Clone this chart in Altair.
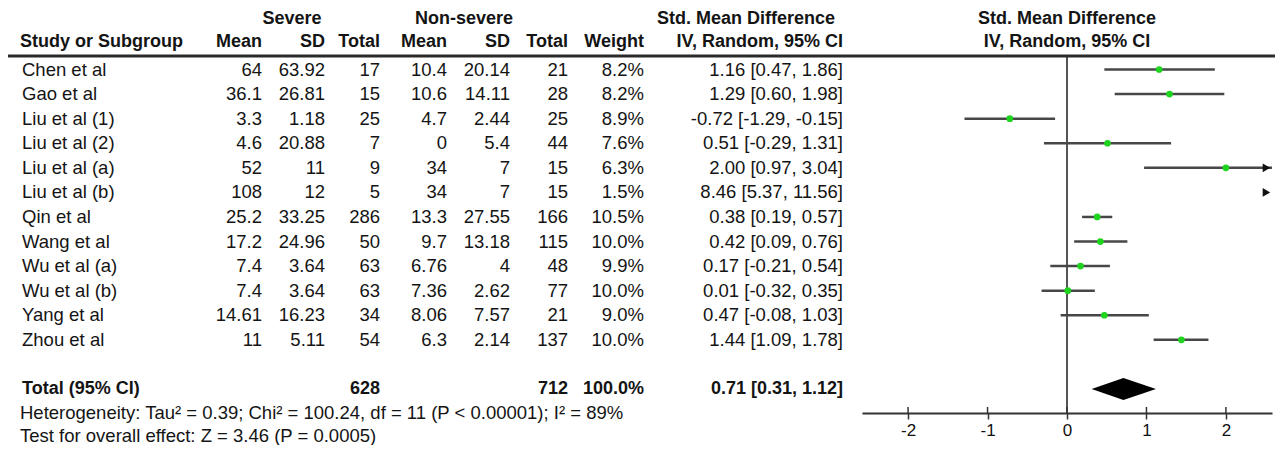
import altair as alt
import pandas as pd

# ---------------- data ----------------
studies = ["Chen et al", "Gao et al", "Liu et al (1)", "Liu et al (2)", "Liu et al (a)",
           "Liu et al (b)", "Qin et al", "Wang et al", "Wu et al (a)", "Wu et al (b)",
           "Yang et al", "Zhou et al"]
sev_mean = [64, 36.1, 3.3, 4.6, 52, 108, 25.2, 17.2, 7.4, 7.4, 14.61, 11]
sev_sd = [63.92, 26.81, 1.18, 20.88, 11, 12, 33.25, 24.96, 3.64, 3.64, 16.23, 5.11]
sev_n = [17, 15, 25, 7, 9, 5, 286, 50, 63, 63, 34, 54]
non_mean = [10.4, 10.6, 4.7, 0, 34, 34, 13.3, 9.7, 6.76, 7.36, 8.06, 6.3]
non_sd = [20.14, 14.11, 2.44, 5.4, 7, 7, 27.55, 13.18, 4, 2.62, 7.57, 2.14]
non_n = [21, 28, 25, 44, 15, 15, 166, 115, 48, 77, 21, 137]
weight = [8.2, 8.2, 8.9, 7.6, 6.3, 1.5, 10.5, 10.0, 9.9, 10.0, 9.0, 10.0]
smd = [1.16, 1.29, -0.72, 0.51, 2.00, 8.46, 0.38, 0.42, 0.17, 0.01, 0.47, 1.44]
ci_lo = [0.47, 0.60, -1.29, -0.29, 0.97, 5.37, 0.19, 0.09, -0.21, -0.32, -0.08, 1.09]
ci_hi = [1.86, 1.98, -0.15, 1.31, 3.04, 11.56, 0.57, 0.76, 0.54, 0.35, 1.03, 1.78]

total_label = "Total (95% CI)"
total_sev_n = 628
total_non_n = 712
total_weight = 100.0
total_smd = 0.71
total_lo = 0.31
total_hi = 1.12

heterogeneity = "Heterogeneity: Tau² = 0.39; Chi² = 100.24, df = 11 (P < 0.00001); I² = 89%"
overall = "Test for overall effect: Z = 3.46 (P = 0.0005)"
x_ticks = [-2, -1, 0, 1, 2]

# ---------------- layout / style ----------------
FONT = "Liberation Sans"
FS = 18.5
FSB = 18
TXT = "#141414"
XMIN, XMAX = -2.58, 2.58
W, H = 1267, 405
xscale = alt.Scale(domain=[XMIN, XMAX], range=[854, 1264], nice=False, zero=False)
TOTAL_ROW = len(studies) + 1
yscale = alt.Scale(domain=[0, TOTAL_ROW], range=[61.5, 381], nice=False, zero=False)

axis = alt.Axis(values=x_ticks, labelExpr="datum.value + ''", title=None, grid=False,
                domainColor="#333333", domainWidth=2, tickColor="#333333", tickWidth=1.5,
                tickSize=6, labelFont=FONT, labelFontSize=17, labelColor="#111111",
                labelPadding=3, orient="bottom", labelFlush=False, labelOverlap=False)


def XQ(field):
    return alt.X(field, scale=xscale, axis=axis)


def fmt(v):
    return f"{v:g}"


rows = list(range(len(studies)))
df = pd.DataFrame({
    "row": rows,
    "study": studies,
    "sm": [fmt(v) for v in sev_mean],
    "ssd": [fmt(v) for v in sev_sd],
    "sn": [str(v) for v in sev_n],
    "nm": [fmt(v) for v in non_mean],
    "nsd": [fmt(v) for v in non_sd],
    "nn": [str(v) for v in non_n],
    "w": [f"{v:.1f}%" for v in weight],
    "ci": [f"{m:.2f} [{l:.2f}, {h:.2f}]" for m, l, h in zip(smd, ci_lo, ci_hi)],
    "smd": smd,
    "lo": ci_lo,
    "hi": ci_hi,
})
df["lo_c"] = df["lo"].clip(lower=XMIN, upper=XMAX)
df["hi_c"] = df["hi"].clip(lower=XMIN, upper=XMAX)

Y = alt.Y("row:Q", scale=yscale, axis=None)

base = alt.Chart(df)

# zero line (carries the x axis)
zero_line = alt.Chart(pd.DataFrame({"x": [0]})).mark_rule(color="#555555", strokeWidth=2).encode(
    x=XQ("x:Q"), y=alt.value(48), y2=alt.value(H))
tick_up = alt.Chart(pd.DataFrame({"t": x_ticks})).mark_rule(color="#333333", strokeWidth=1.5).encode(
    x=XQ("t:Q"), y=alt.value(H - 6), y2=alt.value(H))

# CI lines (only the visible part)
ci_df = df[(df["hi"] > XMIN) & (df["lo"] < XMAX)]
ci_lines = alt.Chart(ci_df).mark_rule(color="#474747", strokeWidth=2.5).encode(
    x=XQ("lo_c:Q"), x2="hi_c:Q", y=Y)

pt_df = df[(df["smd"] >= XMIN) & (df["smd"] <= XMAX)]
points = alt.Chart(pt_df).mark_point(filled=True, shape="circle", size=45, color="#1ed41e",
                                     opacity=1).encode(x=XQ("smd:Q"), y=Y)

arr_df = df[df["hi"] > XMAX].assign(ax=XMAX - 0.07)
arrows = alt.Chart(arr_df).mark_point(filled=True, shape="triangle-right", size=75,
                                      color="#111111", opacity=1).encode(x=XQ("ax:Q"), y=Y)

# pooled diamond
dia_half = 0.45
dia_df = pd.DataFrame({
    "x": [total_lo, total_smd, total_hi],
    "y": [TOTAL_ROW, TOTAL_ROW - dia_half, TOTAL_ROW],
    "y2": [TOTAL_ROW, TOTAL_ROW + dia_half, TOTAL_ROW],
})
diamond = alt.Chart(dia_df).mark_area(color="#000000", opacity=1, orient="vertical").encode(
    x=XQ("x:Q"), y=alt.Y("y:Q", scale=yscale, axis=None), y2="y2:Q")

header_rule = alt.Chart(pd.DataFrame({"a": [0]})).mark_rule(color="#2a2a2a", strokeWidth=3).encode(
    x=alt.value(0), x2=alt.value(W), y=alt.value(48))

layers = [zero_line, tick_up, header_rule, ci_lines, diamond, points, arrows]

# table columns
cols = [("study", 14, "left"), ("sm", 254, "right"), ("ssd", 317, "right"), ("sn", 372, "right"),
        ("nm", 439, "right"), ("nsd", 502, "right"), ("nn", 560, "right"), ("w", 636, "right"),
        ("ci", 835, "right")]
for field, xp, al in cols:
    layers.append(base.mark_text(align=al, baseline="middle", font=FONT, fontSize=FS, color=TXT).encode(
        x=alt.value(xp), y=Y, text=f"{field}:N"))

# total row
tot_items = [(total_label, 14, "left"), (str(total_sev_n), 372, "right"),
             (str(total_non_n), 560, "right"), (f"{total_weight:.1f}%", 636, "right"),
             (f"{total_smd:.2f} [{total_lo:.2f}, {total_hi:.2f}]", 835, "right")]
for t, xp, al in tot_items:
    layers.append(alt.Chart(pd.DataFrame({"t": [t], "row": [TOTAL_ROW]})).mark_text(
        align=al, baseline="middle", font=FONT, fontSize=FSB, fontWeight="bold", color=TXT).encode(
        x=alt.value(xp), y=Y, text="t:N"))

# headers and footers (fixed text positions)
FX = 1059
HY1, HY2 = 11, 34
headers = [
    ("Severe", 284, HY1, "center", True), ("Non-severe", 456, HY1, "center", True),
    ("Std. Mean Difference", 827, HY1, "right", True), ("Std. Mean Difference", FX, HY1, "center", True),
    ("Study or Subgroup", 12, HY2, "left", True), ("Mean", 254, HY2, "right", True),
    ("SD", 317, HY2, "right", True), ("Total", 372, HY2, "right", True),
    ("Mean", 439, HY2, "right", True), ("SD", 502, HY2, "right", True),
    ("Total", 560, HY2, "right", True), ("Weight", 636, HY2, "right", True),
    ("IV, Random, 95% CI", 835, HY2, "right", True), ("IV, Random, 95% CI", FX, HY2, "center", True),
    (heterogeneity, 12, 405, "left", False), (overall, 12, 428, "left", False),
]
for t, xp, yp, al, bold in headers:
    layers.append(alt.Chart(pd.DataFrame({"t": [t]})).mark_text(
        align=al, baseline="middle", font=FONT, fontSize=FSB if bold else FS,
        fontWeight="bold" if bold else "normal", color=TXT).encode(
        x=alt.value(xp), y=alt.value(yp), text="t:N"))

chart = alt.layer(*layers).properties(
    width=W, height=H,
    autosize=alt.AutoSizeParams(type="none"),
    padding={"left": 0, "top": 0, "right": 0, "bottom": 32},
    background="white",
).configure_view(stroke=None)

chart.save("out.html", embed_options={"renderer": "svg", "actions": False})
